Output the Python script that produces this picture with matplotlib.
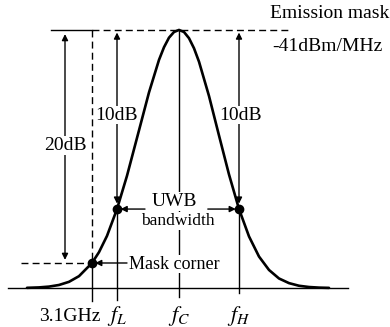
import matplotlib.pyplot as plt

plt.rcParams['font.family'] = ['Liberation Serif', 'DejaVu Serif']
plt.rcParams['mathtext.fontset'] = 'stix'

# spectrum shape (normalised frequency, normalised level)
curve_x = [-3.8, -3.5, -3.25, -3.0, -2.75, -2.5, -2.175, -2.0, -1.8, -1.55, -1.3, -1.0,
           -0.75, -0.5, -0.375, -0.25, -0.125, 0.0, 0.125, 0.25, 0.375, 0.5, 0.75, 1.0,
           1.25, 1.5, 1.75, 2.0, 2.25, 2.5, 2.75, 3.0, 3.25, 3.5, 3.75]
curve_y = [0.0008, 0.0024, 0.0055, 0.0118, 0.024, 0.046, 0.097, 0.139, 0.202, 0.306, 0.435, 0.611,
           0.758, 0.884, 0.933, 0.970, 0.992, 1.0, 0.992, 0.968, 0.929, 0.877, 0.744, 0.591,
           0.44, 0.306, 0.200, 0.122, 0.070, 0.037, 0.019, 0.0088, 0.0039, 0.0016, 0.0006]

f_corner = -2.175
f_L = -1.55
f_C = 0.0
f_H = 1.5
peak = 1.0
level_10 = 0.306
level_20 = 0.097

tick_pos = [f_corner, f_L, f_C, f_H]
tick_lab = ['3.1GHz', r'$f_L$', r'$f_C$', r'$f_H$']

fig = plt.figure(figsize=(3.9, 3.27), dpi=100)
ax = fig.add_axes([0, 0, 1, 1])
ax.set_xlim(-4.475, 5.275)
ax.set_ylim(-0.151, 1.116)
ax.axis('off')

dash = (0, (5, 3))
box = dict(facecolor='white', edgecolor='none', pad=0.5)


def arrow(x0, y0, x1, y1, style='-|>'):
    ax.annotate('', xy=(x1, y1), xytext=(x0, y0),
                arrowprops=dict(arrowstyle=style, lw=1, color='k',
                                shrinkA=0, shrinkB=0, mutation_scale=9))


# baseline
ax.plot([-4.275, 4.225], [0, 0], color='k', lw=1)

# curve
ax.plot(curve_x, curve_y, color='k', lw=1.9, zorder=5, solid_capstyle='round')

# emission mask level
ax.plot([-3.2, f_corner], [peak, peak], color='k', lw=1)
ax.plot([f_corner, 2.775], [peak, peak], color='k', lw=1, ls=dash)

# mask corner guides
ax.plot([f_corner, f_corner], [peak, level_20], color='k', lw=1, ls=dash)
ax.plot([f_corner, f_corner], [level_20, -0.05], color='k', lw=1)
ax.plot([-3.95, f_corner], [level_20, level_20], color='k', lw=1, ls=dash)

# centre line
ax.plot([f_C, f_C], [peak, -0.035], color='k', lw=1)

# fL / fH lines below the dots
ax.plot([f_L, f_L], [level_10, -0.045], color='k', lw=1)
ax.plot([f_H, f_H], [level_10, -0.02], color='k', lw=1)

# dB arrows
arrow(-2.85, 0.55, -2.85, 0.984)
arrow(-2.85, 0.55, -2.85, 0.109)
ax.text(-2.85, 0.552, '20dB', fontsize=14, ha='center', va='center', bbox=box)

for fx, tx in [(f_L, f_L), (f_H, f_H + 0.04)]:
    arrow(fx, 0.67, fx, 0.99)
    arrow(fx, 0.67, fx, 0.327)
    ax.text(tx, 0.67, '10dB', fontsize=14, ha='center', va='center', bbox=box)

# dots
ax.plot([f_corner, f_L, f_H], [level_20, level_10, level_10], 'o', color='k', ms=6, zorder=6)

# UWB bandwidth
ax.text(-0.12, 0.335, 'UWB', fontsize=14, ha='center', va='center', bbox=box)
ax.text(-0.04, 0.26, 'bandwidth', fontsize=12.5, ha='center', va='center', bbox=box)
arrow(-0.85, level_10, f_L + 0.09, level_10)
arrow(0.72, level_10, f_H - 0.08, level_10)

# mask corner
ax.text(-1.25, 0.093, 'Mask corner', fontsize=13, ha='left', va='center', bbox=box)
arrow(-1.3, level_20, f_corner + 0.08, level_20)

# emission mask labels
ax.text(2.275, 1.062, 'Emission mask', fontsize=14, ha='left', va='center')
ax.text(2.325, 0.934, '-41dBm/MHz', fontsize=14, ha='left', va='center')

# frequency labels
ax.text(f_corner + 0.2, -0.11, tick_lab[0], fontsize=14, ha='right', va='center')
for p, lab in zip(tick_pos[1:], tick_lab[1:]):
    ax.text(p, -0.11, lab, fontsize=16, ha='center', va='center')

fig.savefig('out.png', dpi=100)
